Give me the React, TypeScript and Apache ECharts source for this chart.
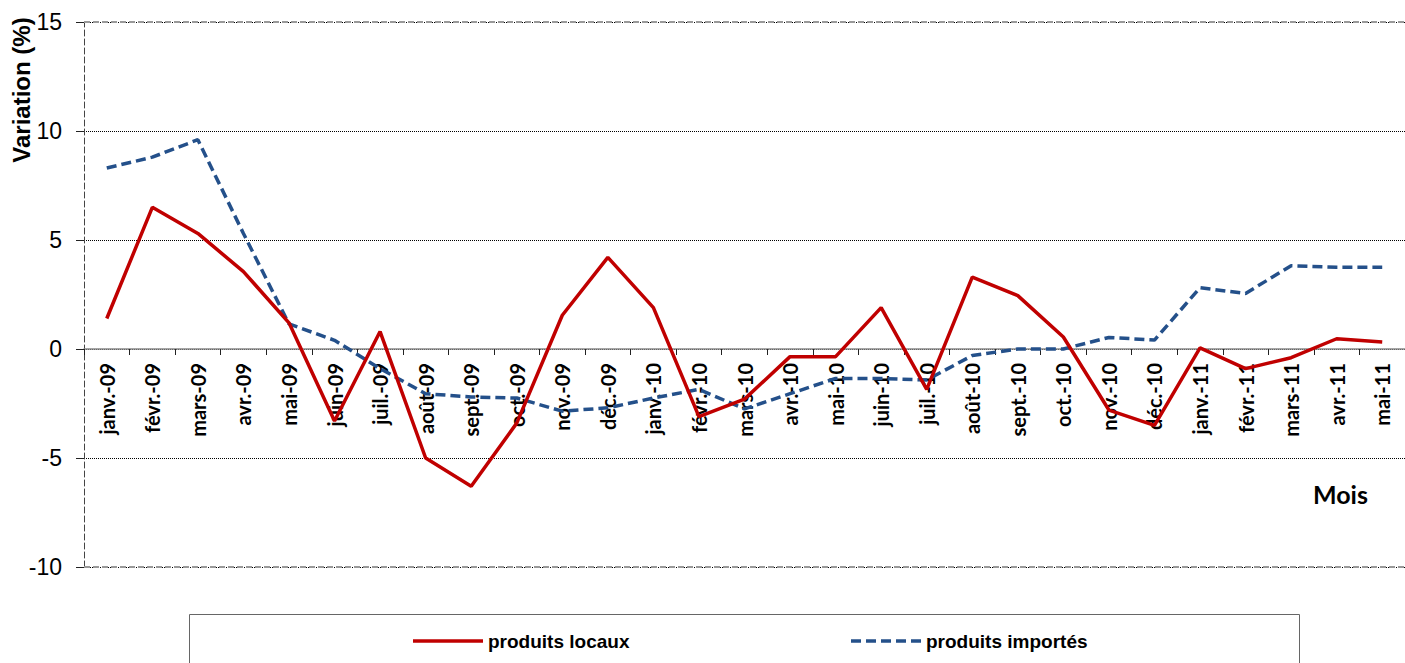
import React, { useEffect, useRef } from "react";
import * as echarts from "echarts";

const categories = [
  "janv.-09", "févr.-09", "mars-09", "avr.-09", "mai-09", "juin-09", "juil.-09", "août-09",
  "sept.-09", "oct.-09", "nov.-09", "déc.-09", "janv.-10", "févr.-10", "mars-10", "avr.-10",
  "mai-10", "juin-10", "juil.-10", "août-10", "sept.-10", "oct.-10", "nov.-10", "déc.-10",
  "janv.-11", "févr.-11", "mars-11", "avr.-11", "mai-11",
];

const produitsLocaux = [
  1.4, 6.5, 5.3, 3.55, 1.2, -3.3, 0.8, -5.0, -6.3, -3.4, 1.55, 4.2, 1.9, -3.1, -2.3, -0.35,
  -0.35, 1.9, -1.85, 3.3, 2.45, 0.55, -2.8, -3.5, 0.05, -0.9, -0.4, 0.47, 0.32,
];

const produitsImportes = [
  8.3, 8.8, 9.6, 5.3, 1.15, 0.4, -0.9, -2.05, -2.2, -2.25, -2.85, -2.7, -2.25, -1.85, -2.75,
  -2.05, -1.35, -1.35, -1.42, -0.3, 0.0, 0.0, 0.53, 0.41, 2.81, 2.55, 3.82, 3.75, 3.75,
];

const seriesNames = ["produits locaux", "produits importés"];
const seriesColors = ["#C00000", "#24508A"];
const yTicks = { min: -10, max: 15, interval: 5 };
const yAxisTitle = "Variation (%)";
const xAxisTitle = "Mois";

export default function App() {
  const ref = useRef<HTMLDivElement>(null);
  useEffect(() => {
    if (!ref.current) return;
    const chart = echarts.init(ref.current, undefined, { renderer: "svg" });
    const arial = "Arial, 'Liberation Sans', sans-serif";
    const gridTop = 22;
    const gridHeight = 545;
    const zeroOffset = -(gridHeight * (0 - yTicks.min)) / (yTicks.max - yTicks.min);
    chart.setOption({
      animation: false,
      backgroundColor: "#ffffff",
      grid: { left: 84, top: gridTop, width: 1323, height: gridHeight, containLabel: false },
      xAxis: {
        type: "category",
        data: categories,
        boundaryGap: true,
        position: "bottom",
        offset: zeroOffset,
        axisLine: { onZero: false, lineStyle: { color: "#888", width: 1.5 } },
        axisTick: { show: true, length: 6, lineStyle: { color: "#222", width: 1 } },
        axisLabel: {
          interval: 0,
          rotate: 90,
          margin: 14,
          fontFamily: "Lato, 'Open Sans', sans-serif",
          fontWeight: "bold",
          fontSize: 20,
          color: "#000",
        },
        splitLine: { show: false },
      },
      yAxis: {
        type: "value",
        min: yTicks.min,
        max: yTicks.max,
        interval: yTicks.interval,
        axisLine: { show: true, lineStyle: { color: "#444", width: 1, type: [6, 3] } },
        axisTick: { show: true, length: 8, lineStyle: { color: "#222", width: 1 } },
        axisLabel: { fontFamily: arial, fontSize: 23, color: "#000", margin: 22 },
        splitLine: { show: true, lineStyle: { color: "#000", width: 1, type: [1, 1] } },
      },
      series: [
        {
          name: seriesNames[0],
          type: "line",
          data: produitsLocaux,
          symbol: "none",
          lineStyle: { color: seriesColors[0], width: 3.5 },
          itemStyle: { color: seriesColors[0] },
          z: 3,
          markLine: {
            silent: true,
            symbol: "none",
            label: { show: false },
            lineStyle: { color: "#999", width: 2, type: [6, 3] },
            data: [{ yAxis: yTicks.max }, { yAxis: yTicks.min }],
          },
        },
        {
          name: seriesNames[1],
          type: "line",
          data: produitsImportes,
          symbol: "none",
          lineStyle: { color: seriesColors[1], width: 3.5, type: [10, 5] },
          itemStyle: { color: seriesColors[1] },
          z: 2,
        },
      ],
      graphic: [
        {
          type: "text",
          x: 21,
          y: 90,
          rotation: Math.PI / 2,
          style: {
            text: yAxisTitle,
            fontFamily: arial,
            fontWeight: "bold",
            fontSize: 24,
            fill: "#000",
            textAlign: "center",
            textVerticalAlign: "middle",
          },
        },
        {
          type: "text",
          left: 1313,
          top: 481,
          style: {
            text: xAxisTitle,
            fontFamily: "Lato, 'Open Sans', sans-serif",
            fontWeight: "bold",
            fontSize: 25,
            fill: "#000",
          },
        },
        {
          type: "rect",
          shape: { x: 189.5, y: 614.5, width: 1110, height: 70 },
          style: { fill: "none", stroke: "#666", lineWidth: 1 },
          z: 0,
        },
        {
          type: "line",
          shape: { x1: 413, y1: 641, x2: 483, y2: 641 },
          style: { stroke: seriesColors[0], lineWidth: 3.5 },
        },
        {
          type: "text",
          x: 488,
          y: 641,
          style: {
            text: seriesNames[0],
            fontFamily: arial,
            fontWeight: "bold",
            fontSize: 19,
            fill: "#000",
            textVerticalAlign: "middle",
          },
        },
        {
          type: "line",
          shape: { x1: 851, y1: 641, x2: 921, y2: 641 },
          style: { stroke: seriesColors[1], lineWidth: 3.5, lineDash: [10, 5] },
        },
        {
          type: "text",
          x: 926,
          y: 641,
          style: {
            text: seriesNames[1],
            fontFamily: arial,
            fontWeight: "bold",
            fontSize: 19,
            fill: "#000",
            textVerticalAlign: "middle",
          },
        },
      ],
    });
    return () => chart.dispose();
  }, []);
  return (
    <div
      ref={ref}
      style={{ position: "fixed", left: 0, top: 0, width: 1405, height: 663, background: "#fff" }}
    />
  );
}
